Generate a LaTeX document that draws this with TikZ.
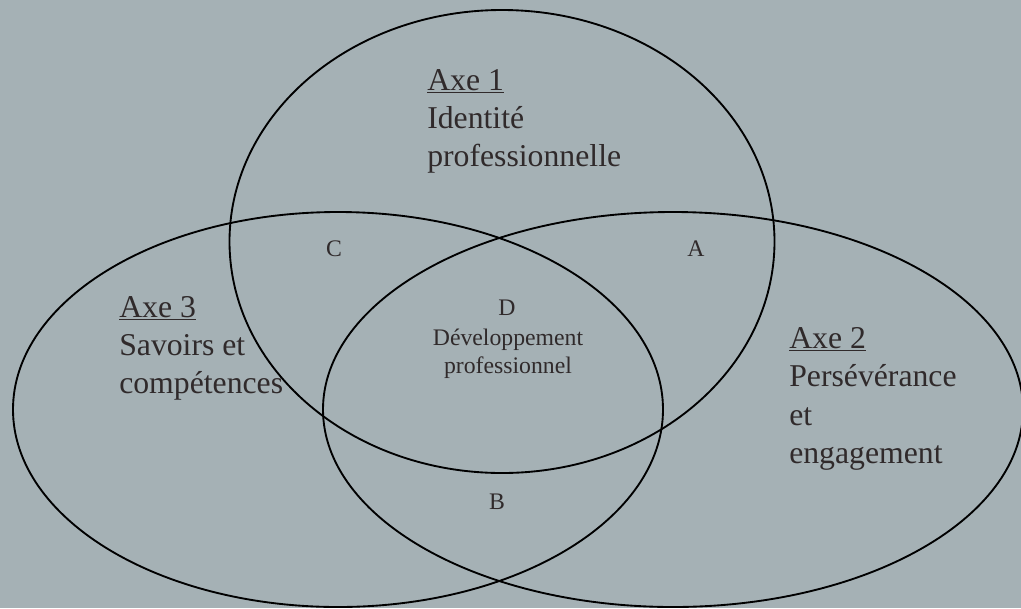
\documentclass[tikz,border=0pt]{standalone}
\usepackage{fontspec}
\setmainfont{Liberation Serif}
\usetikzlibrary{shapes.geometric}
\definecolor{bgcol}{RGB}{165,177,181}
\definecolor{txtcol}{RGB}{48,42,43}
\tikzset{
  venn/.style={ellipse, draw=black, line width=1.4pt, inner sep=0pt},
  bigtxt/.style={anchor=base west, inner sep=0pt, text=txtcol, font=\fontsize{23.8}{28}\selectfont},
  smalltxt/.style={anchor=base, inner sep=0pt, text=txtcol, font=\fontsize{17.8}{21}\selectfont}
}
\begin{document}
\begin{tikzpicture}[x=0.75pt,y=-0.75pt]
\fill[bgcol] (0,0) rectangle (1021,608);
\useasboundingbox (0,0) rectangle (1021,608);
% ellipses
\node[venn, minimum width=408.75pt, minimum height=347.25pt] (axe1) at (502,241.5) {};
\node[venn, minimum width=487.5pt, minimum height=296.25pt] (axe3) at (338,409.5) {};
\node[venn, minimum width=525pt, minimum height=296.25pt] (axe2) at (673,409.5) {};
% Axe 1
\node[bigtxt] (t1a) at (427,90) {\underline{Axe 1}};
\node[bigtxt] (t1b) at (427,128) {Identité};
\node[bigtxt] (t1c) at (427,166) {professionnelle};
% Axe 3
\node[bigtxt] (t3a) at (119,317) {\underline{Axe 3}};
\node[bigtxt] (t3b) at (119,355) {Savoirs et};
\node[bigtxt] (t3c) at (119,393) {compétences};
% Axe 2
\node[bigtxt] (t2a) at (789,348) {\underline{Axe 2}};
\node[bigtxt] (t2b) at (789,386) {Persévérance};
\node[bigtxt] (t2c) at (789,425) {et};
\node[bigtxt] (t2d) at (789,463) {engagement};
% intersections
\node[smalltxt] (lc) at (334,256) {C};
\node[smalltxt] (la) at (696,256) {A};
\node[smalltxt] (lb) at (497,509) {B};
\node[smalltxt] (ld) at (507,315) {D};
\node[smalltxt] (ld2) at (508,345) {Développement};
\node[smalltxt] (ld3) at (508,373) {professionnel};
\end{tikzpicture}
\end{document}
